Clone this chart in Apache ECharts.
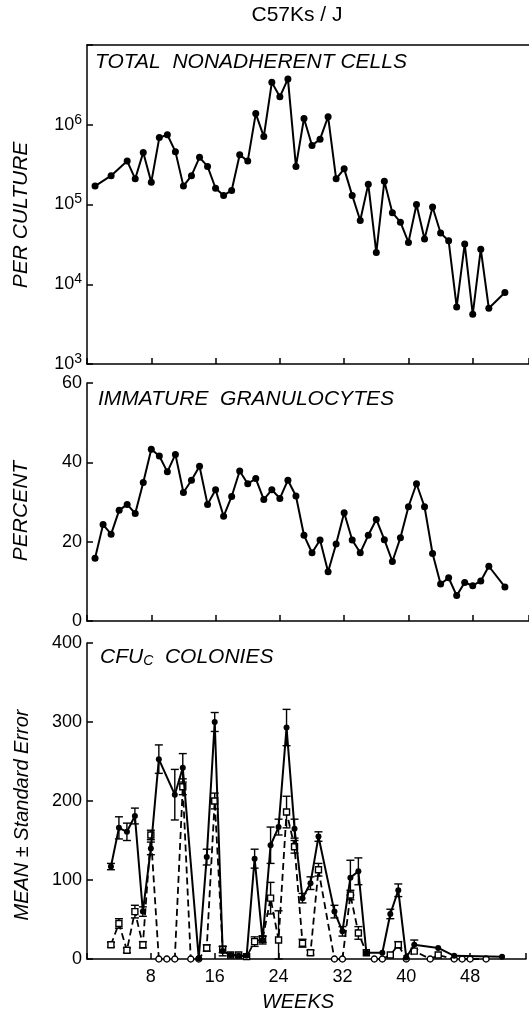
<!DOCTYPE html>
<html>
<head>
<meta charset="utf-8">
<script src="https://cdn.jsdelivr.net/npm/echarts@6/dist/echarts.min.js"></script>
<style>
html, body { margin: 0; padding: 0; background: #fff; }
#main { width: 529px; height: 1018px; }
</style>
</head>
<body>
<div id="main"></div>
<script>
// total nonadherent cells per culture (log scale)
var cellWeeks = [1,3,5,6,7,8,9,10,11,12,13,14,15,16,17,18,19,20,21,22,23,24,25,26,27,28,29,30,31,32,33,34,35,36,37,38,39,40,41,42,43,44,45,46,47,48,49,50,52];
var cellCounts = [170000,230000,350000,210000,450000,190000,690000,750000,460000,170000,230000,390000,300000,160000,130000,150000,420000,350000,1380000,710000,3400000,2240000,3760000,300000,1200000,550000,660000,1260000,210000,280000,130000,63000,180000,25000,195000,79000,60000,33500,100000,37000,93000,44000,35000,5200,32000,4200,27500,5000,7900];

// immature granulocytes, percent
var granWeeks = [1,2,3,4,5,6,7,8,9,10,11,12,13,14,15,16,17,18,19,20,21,22,23,24,25,26,27,28,29,30,31,32,33,34,35,36,37,38,39,40,41,42,43,44,45,46,47,48,49,50,52];
var granPercent = [15.8,24.3,21.9,27.9,29.4,27.1,34.9,43.3,41.6,37.6,42.0,32.4,35.5,39.0,29.4,33.1,26.4,31.4,37.8,34.6,35.9,30.6,33.1,30.9,35.5,31.5,21.6,17.2,20.4,12.4,19.4,27.3,20.4,17.2,21.6,25.6,20.5,15.0,21.0,28.8,34.6,28.8,17.0,9.3,10.9,6.4,9.7,8.9,10.1,13.8,8.6];

// CFUc colonies, mean and standard error (solid, filled circles)
var cfuWeeks = [3,4,5,6,7,8,9,11,12,14,15,16,17,18,19,20,21,22,23,24,25,26,27,28,29,31,32,33,34,35,37,38,39,40,41,44,46,52];
var cfuMean = [117,166,161,181,60,140,253,208,242,1,129,300,10,5,4,4,127,24,144,167,293,165,77,96,155,60,35,103,111,8,8,57,87,2,18,14,4,3];
var cfuErr = [4,14,11,10,6,8,18,32,18,0,10,12,6,0,0,0,12,5,23,10,23,12,6,8,6,8,6,22,17,0,0,6,8,0,6,0,0,0];

// CFUc colonies, second series (dashed, open symbols)
var cfuWeeks2 = [3,4,5,6,7,8,9,10,11,12,13,14,15,16,17,18,19,20,21,22,23,24,25,26,27,28,29,31,32,33,34,35,36,37,38,39,40,41,43,44,46,47,48,50];
var cfuMean2 = [18,45,11,60,18,157,0,0,0,218,0,0,14,200,12,5,5,3,22,25,77,24,186,142,20,8,113,0,0,81,33,8,0,0,5,18,0,10,0,5,0,0,0,0];
var cfuErr2 = [3,6,3,8,4,6,0,0,0,10,0,0,4,10,4,0,0,0,6,4,20,37,20,8,5,3,8,0,0,6,8,0,0,0,0,4,0,0,0,0,0,0,0,0];

var FONT = 'Liberation Sans';
var chart = echarts.init(document.getElementById('main'));

function pairs(xs, ys) {
  return xs.map(function (x, i) { return [x, ys[i]]; });
}

function errBars(xs, ys, es, idx) {
  var data = [];
  xs.forEach(function (x, i) {
    if (es[i]) data.push([x, Math.max(0, ys[i] - es[i]), ys[i] + es[i]]);
  });
  return {
    type: 'custom', xAxisIndex: idx, yAxisIndex: idx, data: data, z: 1,
    encode: { x: 0, y: [1, 2] },
    renderItem: function (params, api) {
      var lo = api.coord([api.value(0), api.value(1)]);
      var hi = api.coord([api.value(0), api.value(2)]);
      var w = 4, st = { stroke: '#000', lineWidth: 1.4 };
      return {
        type: 'group', children: [
          { type: 'line', shape: { x1: hi[0], y1: hi[1], x2: lo[0], y2: lo[1] }, style: st },
          { type: 'line', shape: { x1: hi[0] - w, y1: hi[1], x2: hi[0] + w, y2: hi[1] }, style: st },
          { type: 'line', shape: { x1: lo[0] - w, y1: lo[1], x2: lo[0] + w, y2: lo[1] }, style: st }
        ]
      };
    }
  };
}

var axLine = { show: true, lineStyle: { color: '#000', width: 1.5 } };
var axTick = { show: true, inside: true, length: 6, lineStyle: { color: '#000', width: 1.5 } };

function xAx(grid, labels) {
  return {
    type: 'value', gridIndex: grid, min: 0, max: 55, interval: 8,
    axisLine: axLine, axisTick: axTick, splitLine: { show: false },
    axisLabel: {
      show: labels, color: '#000', fontFamily: FONT, fontSize: 18, margin: 9,
      formatter: function (v) { return (v > 0 && v % 8 === 0) ? String(v) : ''; }
    }
  };
}

function yAx(grid, opts) {
  return Object.assign({
    type: 'value', gridIndex: grid,
    axisLine: axLine, axisTick: axTick, splitLine: { show: false },
    axisLabel: { color: '#000', fontFamily: FONT, fontSize: 18, margin: 5 }
  }, opts);
}

function txt(x, y, text, size, extra) {
  return {
    type: 'text', x: x, y: y, rotation: (extra && extra.rot) || 0,
    style: Object.assign({
      text: text, fill: '#000', fontFamily: FONT, fontSize: size,
      fontStyle: 'italic', align: 'left', verticalAlign: 'middle'
    }, extra && extra.style)
  };
}

var option = {
  backgroundColor: '#fff',
  animation: false,
  grid: [
    { left: 87, top: 45, width: 442, height: 319 },
    { left: 87, top: 383, width: 442, height: 238 },
    { left: 87, top: 643, width: 442, height: 316 }
  ],
  xAxis: [
    xAx(0, false),
    xAx(1, false),
    xAx(2, true),
    { type: 'value', gridIndex: 0, position: 'top', min: 0, max: 55,
      axisLine: axLine, axisTick: { show: false }, axisLabel: { show: false }, splitLine: { show: false } }
  ],
  yAxis: [
    yAx(0, {
      type: 'log', logBase: 10, min: 1000, max: 10000000,
      axisLabel: {
        color: '#000', fontFamily: FONT, fontSize: 18, margin: 5,
        formatter: function (v) {
          var e = Math.round(Math.log10(v));
          return e >= 7 ? '' : '{b|10}{s|' + e + '}';
        },
        rich: {
          b: { fontFamily: FONT, fontSize: 18, color: '#000' },
          s: { fontFamily: FONT, fontSize: 14, color: '#000', verticalAlign: 'top', padding: [0, 0, 10, 0] }
        }
      }
    }),
    yAx(1, { min: 0, max: 60, interval: 20 }),
    yAx(2, { min: 0, max: 400, interval: 100 })
  ],
  series: [
    { type: 'line', xAxisIndex: 0, yAxisIndex: 0, data: pairs(cellWeeks, cellCounts),
      symbol: 'circle', symbolSize: 7, lineStyle: { color: '#000', width: 2 }, itemStyle: { color: '#000' } },
    { type: 'line', xAxisIndex: 1, yAxisIndex: 1, data: pairs(granWeeks, granPercent),
      symbol: 'circle', symbolSize: 7, lineStyle: { color: '#000', width: 2 }, itemStyle: { color: '#000' } },
    errBars(cfuWeeks2, cfuMean2, cfuErr2, 2),
    errBars(cfuWeeks, cfuMean, cfuErr, 2),
    { type: 'line', xAxisIndex: 2, yAxisIndex: 2, data: pairs(cfuWeeks2, cfuMean2), z: 2,
      symbol: function (v) { return v[1] === 0 ? 'circle' : 'rect'; }, symbolSize: 6,
      lineStyle: { color: '#000', width: 1.8, type: [7, 4] },
      itemStyle: { color: '#fff', borderColor: '#000', borderWidth: 1.4 } },
    { type: 'line', xAxisIndex: 2, yAxisIndex: 2, data: pairs(cfuWeeks, cfuMean), z: 3,
      symbol: 'circle', symbolSize: 6, lineStyle: { color: '#000', width: 2 }, itemStyle: { color: '#000' } }
  ],
  graphic: [
    txt(297, 15, 'C57Ks / J', 21, { style: { fontStyle: 'normal', align: 'center' } }),
    txt(95, 62, 'TOTAL  NONADHERENT CELLS', 21),
    txt(98, 399, 'IMMATURE  GRANULOCYTES', 21),
    txt(100, 657, '{a|CFU}{s|C}{a|  COLONIES}', 21, { style: {
      rich: {
        a: { fontFamily: FONT, fontSize: 21, fontStyle: 'italic', color: '#000' },
        s: { fontFamily: FONT, fontSize: 14, fontStyle: 'italic', color: '#000', verticalAlign: 'bottom', padding: [8, 0, 0, 0] }
      } } }),
    txt(21, 215, 'PER CULTURE', 21, { rot: Math.PI / 2, style: { align: 'center' } }),
    txt(21, 511, 'PERCENT', 21, { rot: Math.PI / 2, style: { align: 'center' } }),
    txt(22, 815, 'MEAN \u00b1 Standard Error', 20, { rot: Math.PI / 2, style: { align: 'center' } }),
    txt(298, 1002, 'WEEKS', 20, { style: { align: 'center' } })
  ]
};

chart.setOption(option);
</script>
</body>
</html>
